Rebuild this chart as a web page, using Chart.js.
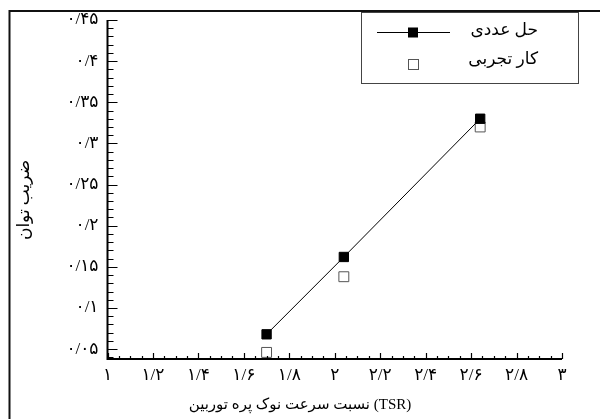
<!DOCTYPE html>
<html>
<head>
<meta charset="utf-8">
<script src="https://cdn.jsdelivr.net/npm/chart.js@4.4.1/dist/chart.umd.min.js"></script>
<style>
  html, body { margin: 0; padding: 0; background: #fff; }
  #wrap { width: 600px; height: 419px; position: relative; }
</style>
</head>
<body>
<div id="wrap"><canvas id="cpChart"></canvas></div>
<script>
// data
const seriesNames = ["حل عددی", "کار تجربی"];
const tsrNumerical = [1.70, 2.04, 2.64];
const cpNumerical = [0.068, 0.162, 0.330];
const tsrExperimental = [1.70, 2.04, 2.64];
const cpExperimental = [0.046, 0.138, 0.320];

const xTicks = [1, 1.2, 1.4, 1.6, 1.8, 2, 2.2, 2.4, 2.6, 2.8, 3];
const xTickLabels = ["۱", "۱/۲", "۱/۴", "۱/۶", "۱/۸", "۲", "۲/۲", "۲/۴", "۲/۶", "۲/۸", "۳"];
const yTicks = [0.05, 0.1, 0.15, 0.2, 0.25, 0.3, 0.35, 0.4, 0.45];
const yTickLabels = ["۰/۰۵", "۰/۱", "۰/۱۵", "۰/۲", "۰/۲۵", "۰/۳", "۰/۳۵", "۰/۴", "۰/۴۵"];

const xTitle = "نسبت سرعت نوک پره توربین (TSR)";
const yTitle = "ضریب توان";

const FONT = "'Liberation Serif', 'DejaVu Sans', serif";

document.addEventListener("DOMContentLoaded", () => {
  const ctx = document.getElementById("cpChart");

  const toPoints = (xs, ys) => xs.map((x, i) => ({ x: x, y: ys[i] }));

  // axes, inward ticks, titles and the page frame
  const axesPlugin = {
    id: "axesPlugin",
    beforeDraw(chart) {
      const c = chart.ctx;
      c.save();
      c.strokeStyle = "#111";
      c.lineWidth = 2;
      c.beginPath();
      c.moveTo(9.5, 419);
      c.lineTo(9.5, 11);
      c.lineTo(600, 11);
      c.stroke();
      c.restore();
    },
    afterDatasetsDraw(chart) {
      const c = chart.ctx;
      const xs = chart.scales.x, ys = chart.scales.y;
      const a = chart.chartArea;
      c.save();
      c.strokeStyle = "#000";
      c.lineWidth = 1.2;
      c.beginPath();
      // y minor every 0.01, major at labelled ticks
      for (let v = 0.04; v <= 0.4501; v += 0.01) {
        const p = Math.round(ys.getPixelForValue(v)) + 0.5;
        const major = yTicks.some(t => Math.abs(t - v) < 1e-6);
        c.moveTo(a.left, p);
        c.lineTo(a.left + (major ? 10 : 6), p);
      }
      for (let v = 1; v <= 3.0001; v += 0.05) {
        const p = Math.round(xs.getPixelForValue(v)) + 0.5;
        const major = xTicks.some(t => Math.abs(t - v) < 1e-6);
        c.moveTo(p, a.bottom);
        c.lineTo(p, a.bottom - (major ? 6 : 3));
      }
      c.stroke();
      c.lineWidth = 2;
      c.beginPath();
      c.moveTo(a.left, a.top);
      c.lineTo(a.left, a.bottom);
      c.lineTo(a.right, a.bottom);
      c.stroke();

      // axis titles
      c.fillStyle = "#000";
      c.textAlign = "center";
      c.textBaseline = "middle";
      c.font = "15px " + FONT;
      c.fillText(xTitle, 300, 405);
      c.translate(25, 200);
      c.rotate(-Math.PI / 2);
      c.font = "17px " + FONT;
      c.fillText(yTitle, 0, 0);
      c.restore();
    }
  };

  // framed legend inside the plot, top right
  const legendBox = {
    id: "legendBox",
    afterDraw(chart) {
      const c = chart.ctx;
      const ds = chart.data.datasets;
      c.save();
      c.strokeStyle = "#444";
      c.lineWidth = 1;
      c.strokeRect(361.5, 12.5, 217, 71);
      // numerical
      c.strokeStyle = "#000";
      c.beginPath();
      c.moveTo(377, 32.5);
      c.lineTo(450, 32.5);
      c.stroke();
      c.fillStyle = ds[0].pointBackgroundColor;
      c.fillRect(408, 27.5, 10, 10);
      // experimental
      c.fillStyle = "#fff";
      c.strokeStyle = ds[1].pointBorderColor;
      c.strokeRect(408.5, 59.5, 10, 10);
      c.fillStyle = "#000";
      c.font = "17px " + FONT;
      c.textAlign = "right";
      c.textBaseline = "middle";
      c.fillText(ds[0].label, 538, 31);
      c.fillText(ds[1].label, 538, 60);
      c.restore();
    }
  };

  new Chart(ctx, {
    type: "scatter",
    data: {
      datasets: [
        {
          label: seriesNames[0],
          data: toPoints(tsrNumerical, cpNumerical),
          showLine: true,
          borderColor: "#000",
          borderWidth: 1,
          pointStyle: "rect",
          pointRadius: 6.6,
          pointBorderWidth: 1,
          pointBackgroundColor: "#000",
          pointBorderColor: "#000",
        },
        {
          label: seriesNames[1],
          data: toPoints(tsrExperimental, cpExperimental),
          showLine: false,
          pointStyle: "rect",
          pointRadius: 7,
          pointBorderWidth: 1,
          pointBackgroundColor: "#fff",
          pointBorderColor: "#555",
        }
      ]
    },
    options: {
      responsive: true,
      maintainAspectRatio: false,
      animation: false,
      layout: { padding: { top: 20, right: 38, left: 0, bottom: 0 } },
      scales: {
        x: {
          type: "linear",
          min: 1,
          max: 3,
          afterFit: s => { s.height = 60; },
          afterBuildTicks: s => { s.ticks = xTicks.map(v => ({ value: v })); },
          grid: { display: false, drawTicks: false },
          border: { display: false },
          ticks: {
            padding: 6,
            color: "#000",
            maxRotation: 0,
            autoSkip: false,
            font: { family: FONT, size: 17 },
            callback: (v, i) => xTickLabels[i],
          },
          title: { display: false },
        },
        y: {
          type: "linear",
          min: 0.038,
          max: 0.45,
          afterFit: s => { s.width = 107.5; },
          afterBuildTicks: s => { s.ticks = yTicks.map(v => ({ value: v })); },
          grid: { display: false, drawTicks: false },
          border: { display: false },
          ticks: {
            padding: 9,
            color: "#000",
            autoSkip: false,
            font: { family: FONT, size: 17 },
            callback: (v, i) => yTickLabels[i],
          },
          title: { display: false },
        },
      },
      plugins: {
        legend: { display: false },
        tooltip: { enabled: false },
      },
    },
    plugins: [axesPlugin, legendBox],
  });
});
</script>
</body>
</html>
